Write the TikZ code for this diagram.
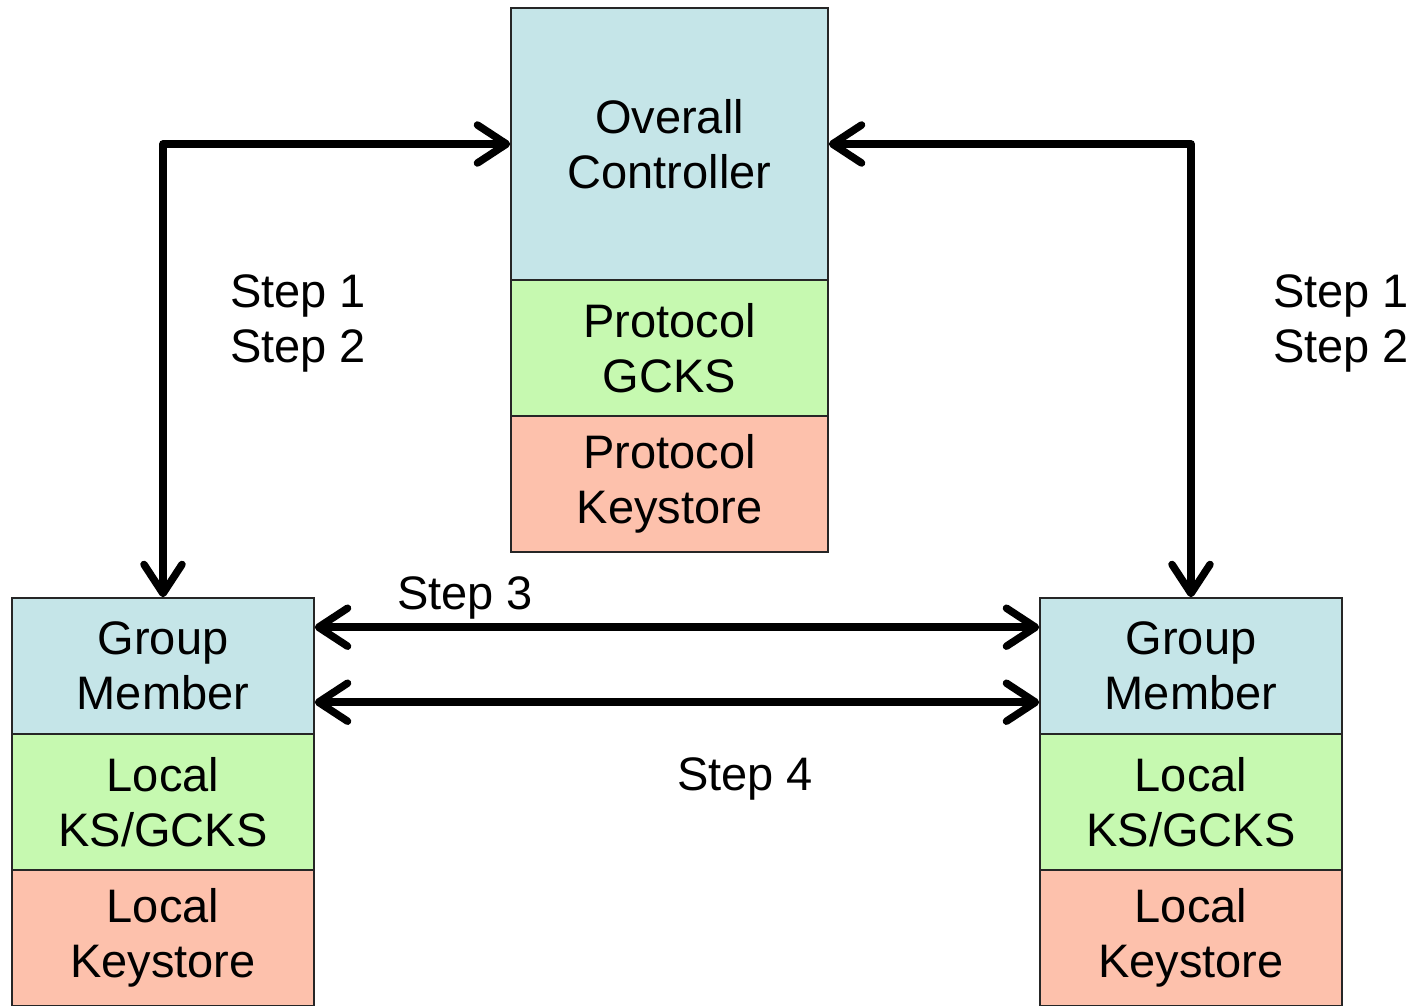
\documentclass[tikz,border=0pt]{standalone}
\usepackage{fontspec}
\setmainfont{Liberation Sans}
\usetikzlibrary{arrows.meta}
\definecolor{ctrlblue}{RGB}{197,229,232}
\definecolor{gcksgreen}{RGB}{198,249,176}
\definecolor{kssalmon}{RGB}{253,193,172}
\tikzset{
  part/.style={draw=black!85, line width=1.6pt, inner sep=0pt, align=center,
    font=\fontsize{47}{55}\selectfont},
  topbox/.style={part, minimum width=317pt},
  sidebox/.style={part, minimum width=302pt, minimum height=136pt},
  link/.style={line width=7.5pt, line join=round,
    {Straight Barb[length=29pt,width=38pt,line cap=round,line join=round]}-{Straight Barb[length=29pt,width=38pt,line cap=round,line join=round]}},
  steplabel/.style={inner sep=0pt, align=left, font=\fontsize{47}{55}\selectfont}
}
\begin{document}
\begin{tikzpicture}[x=1pt,y=-1pt]
  \useasboundingbox (0,0) rectangle (1416,1005);
  \clip (0,0) rectangle (1416,1005);

  % central controller stack
  \node[topbox, fill=ctrlblue, minimum height=272pt] (oc) at (669.5,144) {Overall\\Controller};
  \node[topbox, fill=gcksgreen, minimum height=136pt] (pg) at (669.5,348) {Protocol\\GCKS};
  \node[topbox, fill=kssalmon, minimum height=136pt] (pk) at (669.5,484) {Protocol\\Keystore};

  % left group member stack
  \node[sidebox, fill=ctrlblue] (gmL) at (163,666) {Group\\Member};
  \node[sidebox, fill=gcksgreen] (lgL) at (163,802) {Local\\KS/GCKS};
  \node[sidebox, fill=kssalmon] (lkL) at (163,938) {Local\\Keystore};

  % right group member stack
  \node[sidebox, fill=ctrlblue] (gmR) at (1191,666) {Group\\Member};
  \node[sidebox, fill=gcksgreen] (lgR) at (1191,802) {Local\\KS/GCKS};
  \node[sidebox, fill=kssalmon] (lkR) at (1191,938) {Local\\Keystore};

  % controller links
  \draw[link] (gmL.north) |- (oc.west);
  \draw[link] (gmR.north) |- (oc.east);

  % member-to-member links
  \draw[link] ([yshift=-30pt]gmL.north east) -- ([yshift=-30pt]gmR.north west);
  \draw[link] ([yshift=-105pt]gmL.north east) -- ([yshift=-105pt]gmR.north west);

  % step labels
  \node[steplabel] (s12L) at (298,323) {Step 1\\Step 2};
  \node[steplabel] (s12R) at (1341,323) {Step 1\\Step 2};
  \node[steplabel] (s3) at (465,598) {Step 3};
  \node[steplabel] (s4) at (745,779) {Step 4};
\end{tikzpicture}
\end{document}
